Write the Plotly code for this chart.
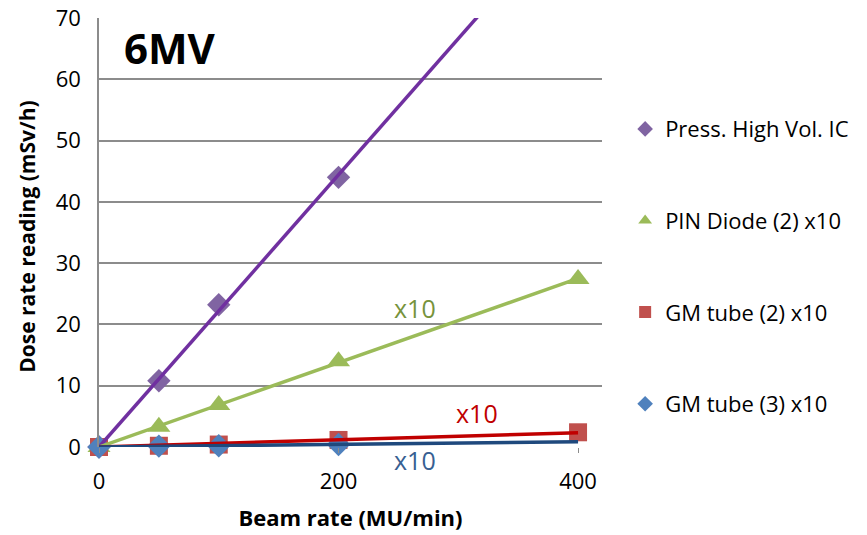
import numpy as np
import plotly.graph_objects as go

# Beam rate (MU/min) and dose-rate readings (mSv/h) per detector
beam_rate = [0, 50, 100, 200, 400]
beam_rate_ic = [0, 50, 100, 200]
beam_rate_gm3 = [0, 50, 100, 200]

ic_high_vol = [0, 10.8, 23.2, 44.0]
pin_diode_x10 = [0, 3.3, 6.85, 14.0, 27.4]
gm_tube2_x10 = [0, 0.2, 0.4, 1.15, 2.4]
gm_tube3_x10 = [0, 0.15, 0.2, 0.42]

x_ticks = [0, 200, 400]
y_ticks = [0, 10, 20, 30, 40, 50, 60, 70]

FONT = "Open Sans, Calibri, sans-serif"
GRID = "#8c8c8c"


def trend_through_origin(x, y, x_end=400):
    """Linear trendline forced through the origin, extended to x_end."""
    x = np.asarray(x, float)
    y = np.asarray(y, float)
    slope = (x * y).sum() / (x * x).sum()
    xs = np.array([0.0, x_end])
    return xs, slope * xs


series = [
    dict(name="Press. High Vol. IC", x=beam_rate_ic, y=ic_high_vol,
         symbol="diamond", size=18, mcolor="#8064A2", lcolor="#7030A0"),
    dict(name="PIN Diode (2) x10", x=beam_rate, y=pin_diode_x10,
         symbol="triangle-up", size=20, mcolor="#9BBB59", lcolor="#9BBB59"),
    dict(name="GM tube (2) x10", x=beam_rate, y=gm_tube2_x10,
         symbol="square", size=18, mcolor="#C0504D", lcolor="#C00000"),
    dict(name="GM tube (3) x10", x=beam_rate_gm3, y=gm_tube3_x10,
         symbol="diamond", size=18, mcolor="#4F81BD", lcolor="#1F497D"),
]

fig = go.Figure()

# markers first (legend entries), trendlines drawn on top
for i, s in enumerate(series):
    fig.add_trace(go.Scatter(
        x=s["x"], y=s["y"], mode="markers", name=s["name"],
        legendgroup=f"g{i}",
        marker=dict(symbol=s["symbol"], size=s["size"], color=s["mcolor"],
                    line=dict(width=0)),
        cliponaxis=False,
    ))
for i, s in enumerate(series):
    tx, ty = trend_through_origin(s["x"], s["y"])
    fig.add_trace(go.Scatter(
        x=tx, y=ty, mode="lines", showlegend=False, hoverinfo="skip",
        line=dict(color=s["lcolor"], width=3.5),
    ))

# scale-factor labels beside the lines
labels = [
    dict(x=264, y=22.7, text="x10", color="#77933C", shift=0),
    dict(x=316, y=5.5, text="x10", color="#C00000", shift=0),
    dict(x=264, y=0, text="x10", color="#376092", shift=-13),
]
for a in labels:
    fig.add_annotation(x=a["x"], y=a["y"], yshift=a["shift"], text=a["text"],
                       showarrow=False,
                       font=dict(family=FONT, size=25, color=a["color"]),
                       xanchor="center", yanchor="middle")

fig.add_annotation(x=59, y=65.2, text="<b>6MV</b>", showarrow=False,
                   font=dict(family=FONT, size=42, color="black"),
                   xanchor="center", yanchor="middle")

# vertical axis title, placed at the far left of the figure
fig.add_annotation(xref="paper", yref="paper", x=0, y=0.49, xshift=-72,
                   text="<b>Dose rate reading (mSv/h)</b>", textangle=-90,
                   showarrow=False, xanchor="center", yanchor="middle",
                   font=dict(family=FONT, size=21, color="black"))

fig.update_layout(
    width=867, height=535,
    margin=dict(l=99, r=265, t=18, b=88, autoexpand=False),
    paper_bgcolor="white", plot_bgcolor="white",
    font=dict(family=FONT, size=21, color="black"),
    showlegend=True,
    legend=dict(x=1.046, y=0.79, xanchor="left", yanchor="top",
                font=dict(family=FONT, size=22, color="black"),
                tracegroupgap=60, itemsizing="constant",
                bgcolor="rgba(0,0,0,0)"),
    xaxis=dict(
        range=[0, 420], tickvals=x_ticks, ticktext=[str(v) for v in x_ticks],
        showgrid=False, zeroline=False, showline=False,
        ticks="outside", ticklen=5, tickcolor=GRID, tickwidth=1,
        ticklabelstandoff=10,
        tickfont=dict(family=FONT, size=22),
        title=dict(text="<b>Beam rate (MU/min)</b>",
                   font=dict(family=FONT, size=22), standoff=16),
    ),
    yaxis=dict(
        range=[0, 70], tickvals=y_ticks,
        showgrid=True, gridcolor=GRID, gridwidth=1.5,
        zeroline=False, showline=True, linecolor=GRID, linewidth=1.5,
        ticks="", ticklabelstandoff=12, tickfont=dict(family=FONT, size=22),
    ),
)

fig.write_html("out.html")
